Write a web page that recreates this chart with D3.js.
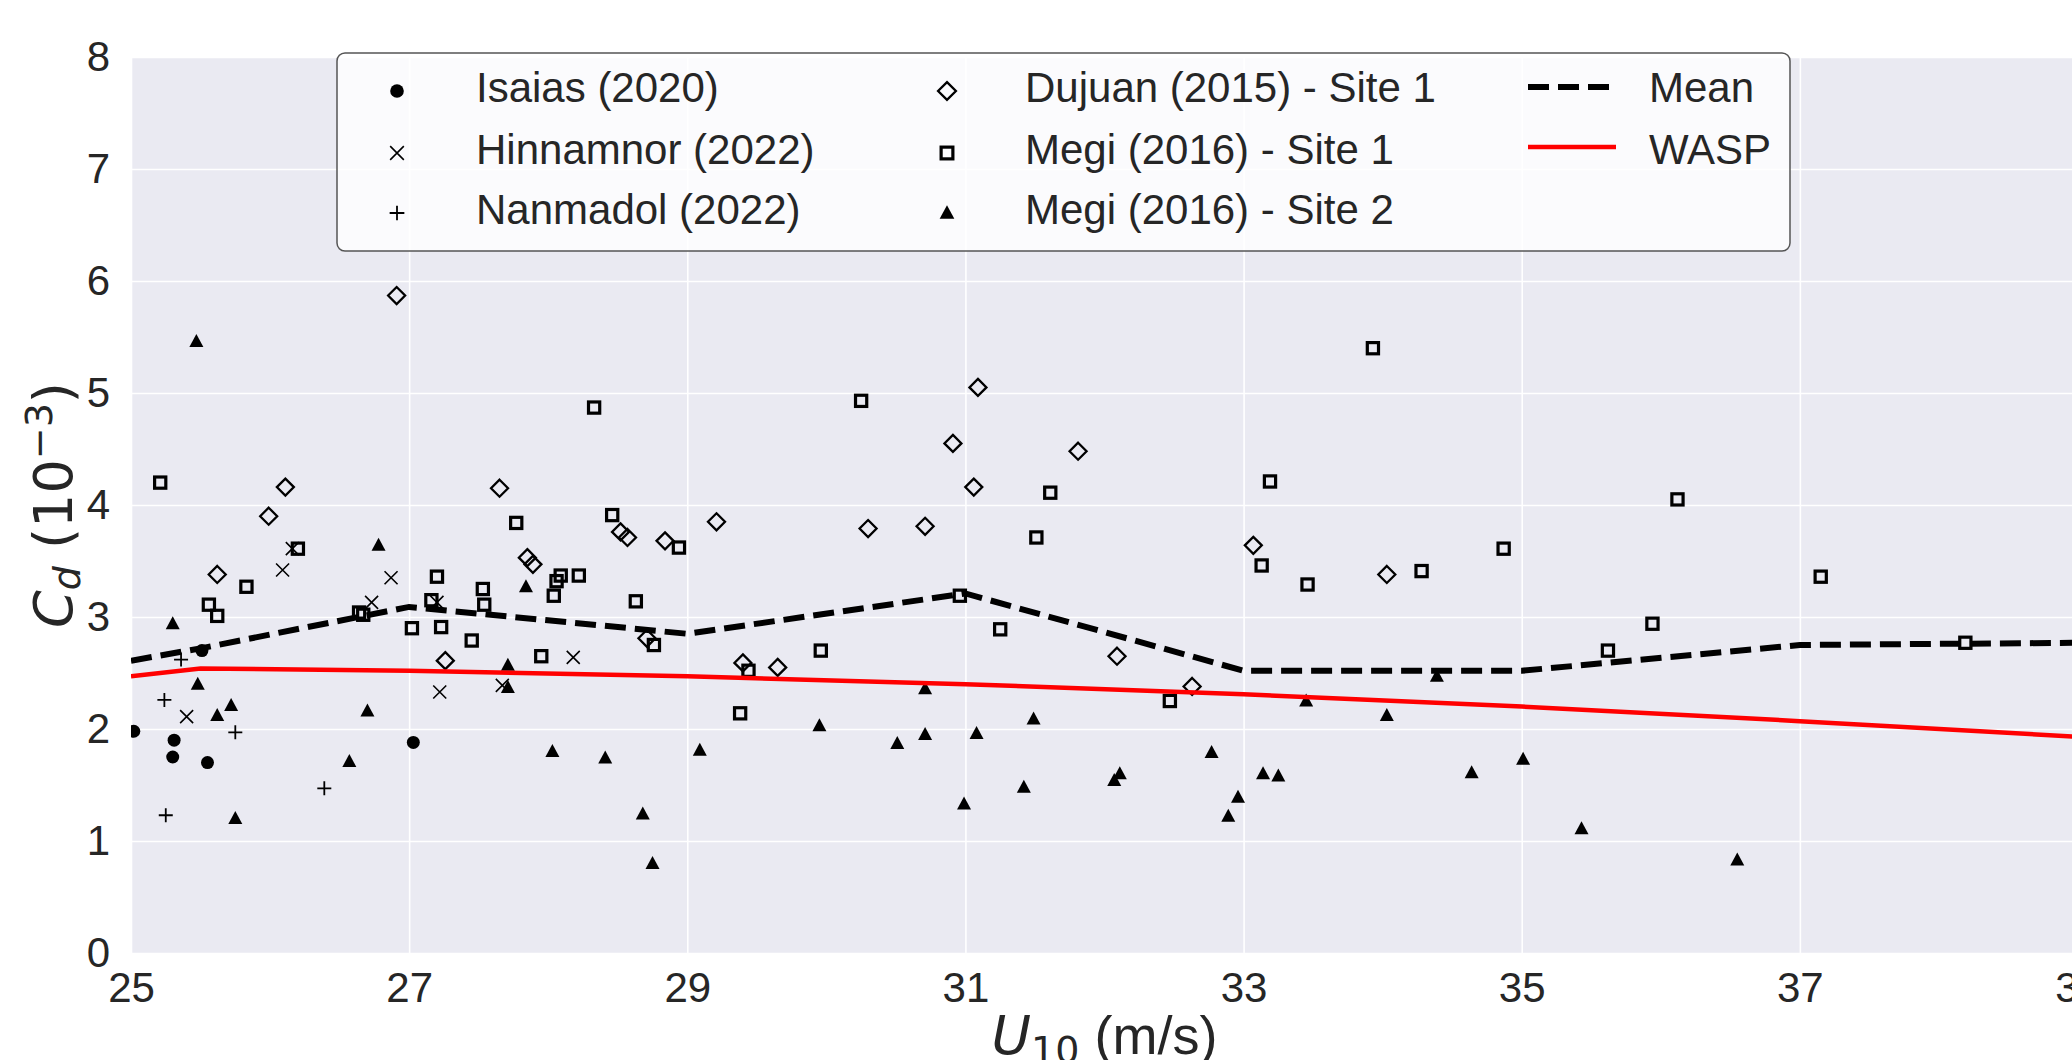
<!DOCTYPE html>
<html lang="en">
  <head>
    <meta charset="UTF-8" />
    <title>Cd vs U10</title>
    <style>
      body {
        margin: 0;
        background: #fff;
      }
      svg {
        display: block;
      }
    </style>
  </head>
  <body>
    <div id="chart"></div>
    <script src="https://cdnjs.cloudflare.com/ajax/libs/d3/7.8.5/d3.min.js"></script>
    <script>
      // data: [U10, Cd]
      var isaias = [[25.02, 1.98], [25.31, 1.9], [25.3, 1.75], [25.55, 1.7], [25.51, 2.7], [27.03, 1.88]];
      var hinnamnor = [[25.4, 2.11], [26.09, 3.42], [26.16, 3.61], [26.73, 3.13], [26.87, 3.35], [27.2, 3.13], [27.22, 2.33], [27.67, 2.39], [28.18, 2.64]];
      var nanmadol = [[25.24, 2.26], [25.36, 2.62], [25.25, 1.23], [25.75, 1.97], [26.39, 1.47]];
      var dujuan = [[25.62, 3.38], [25.99, 3.9], [26.11, 4.16], [26.91, 5.87], [27.26, 2.61], [27.65, 4.15], [27.85, 3.53], [27.89, 3.47], [28.52, 3.76], [28.57, 3.71], [28.71, 2.81], [28.84, 3.68], [29.21, 3.85], [29.4, 2.59], [29.65, 2.55], [30.3, 3.79], [30.71, 3.81], [30.91, 4.55], [31.06, 4.16], [31.09, 5.05], [31.81, 4.48], [32.09, 2.65], [32.63, 2.38], [33.07, 3.64], [34.03, 3.38]];
      var megi1 = [[25.21, 4.2], [25.56, 3.11], [25.62, 3.01], [25.83, 3.27], [26.2, 3.61], [26.64, 3.04], [26.67, 3.02], [27.02, 2.9], [27.16, 3.15], [27.2, 3.36], [27.23, 2.91], [27.45, 2.79], [27.53, 3.25], [27.54, 3.11], [27.77, 3.84], [27.95, 2.65], [28.04, 3.19], [28.06, 3.32], [28.09, 3.37], [28.22, 3.37], [28.33, 4.87], [28.46, 3.91], [28.63, 3.14], [28.76, 2.75], [28.94, 3.62], [29.38, 2.14], [29.44, 2.52], [29.96, 2.7], [30.25, 4.93], [30.96, 3.19], [31.25, 2.89], [31.51, 3.71], [31.61, 4.11], [32.47, 2.25], [33.13, 3.46], [33.19, 4.21], [33.46, 3.29], [33.93, 5.4], [34.28, 3.41], [34.87, 3.61], [35.62, 2.7], [35.94, 2.94], [36.12, 4.05], [37.15, 3.36], [38.19, 2.77]];
      var megi2 = [[25.3, 2.94], [25.47, 5.46], [25.48, 2.4], [25.62, 2.12], [25.72, 2.21], [25.75, 1.2], [26.57, 1.71], [26.7, 2.16], [26.78, 3.64], [27.71, 2.57], [27.71, 2.37], [27.84, 3.27], [28.03, 1.8], [28.41, 1.74], [28.68, 1.24], [28.75, 0.8], [29.09, 1.81], [29.95, 2.03], [30.51, 1.87], [30.71, 2.36], [30.71, 1.95], [30.99, 1.33], [31.08, 1.96], [31.42, 1.48], [31.49, 2.09], [32.07, 1.54], [32.11, 1.6], [32.77, 1.79], [32.89, 1.22], [32.96, 1.39], [33.14, 1.6], [33.25, 1.58], [33.45, 2.25], [34.03, 2.12], [34.39, 2.47], [34.64, 1.61], [35.01, 1.73], [35.43, 1.11], [36.55, 0.83]];

      var lineU = [25, 25.5, 27, 29, 31, 33, 35, 37, 39];
      var meanCd = [2.61, 2.72, 3.09, 2.85, 3.21, 2.52, 2.52, 2.75, 2.77];
      var waspCd = [2.47, 2.54, 2.52, 2.47, 2.4, 2.31, 2.2, 2.07, 1.93];

      var xTicks = [25, 27, 29, 31, 33, 35, 37, 39];
      var yTicks = [0, 1, 2, 3, 4, 5, 6, 7, 8];

      var W = 2072, H = 1060;
      // plot box (window.top is read-only, so no bare "top" here)
      var pL = 131, pR = 2078, pT = 57, pB = 953;
      var font = "'Liberation Sans', Arial, sans-serif";
      var mathFont = "'DejaVu Sans', sans-serif";

      var svg = d3.select("#chart").append("svg")
        .attr("width", W).attr("height", H);

      var x = d3.scaleLinear().domain([25, 39]).range([pL, pR]);
      var y = d3.scaleLinear().domain([0, 8]).range([pB, pT]);

      svg.append("defs").append("clipPath").attr("id", "clip")
        .append("rect").attr("x", pL).attr("y", pT)
        .attr("width", pR - pL).attr("height", pB - pT);

      // background + grid
      svg.append("rect").attr("x", pL).attr("y", pT)
        .attr("width", pR - pL).attr("height", pB - pT)
        .attr("fill", "#eaeaf2");

      svg.append("g").attr("transform", "translate(0," + pB + ")")
        .call(d3.axisBottom(x).tickValues(xTicks).tickSize(-(pB - pT)).tickFormat(""))
        .call(function (g) {
          g.select(".domain").remove();
          g.selectAll("line").attr("stroke", "#fff").attr("stroke-width", 1.6);
        });
      svg.append("g").attr("transform", "translate(" + pL + ",0)")
        .call(d3.axisLeft(y).tickValues(yTicks).tickSize(-(pR - pL)).tickFormat(""))
        .call(function (g) {
          g.select(".domain").remove();
          g.selectAll("line").attr("stroke", "#fff").attr("stroke-width", 1.6);
        });

      // tick labels
      svg.append("g").attr("transform", "translate(0," + pB + ")")
        .call(d3.axisBottom(x).tickValues(xTicks).tickSize(0).tickPadding(19).tickFormat(d3.format("d")))
        .call(function (g) {
          g.select(".domain").remove();
          g.selectAll("text").attr("font-family", font).attr("font-size", 42).attr("fill", "#262626");
        });
      svg.append("g").attr("transform", "translate(" + pL + ",0)")
        .call(d3.axisLeft(y).tickValues(yTicks).tickSize(0).tickPadding(21).tickFormat(d3.format("d")))
        .call(function (g) {
          g.select(".domain").remove();
          g.selectAll("text").attr("font-family", font).attr("font-size", 42).attr("fill", "#262626");
        });

      var xl = svg.append("text")
        .attr("x", (pL + pR) / 2).attr("y", 1054)
        .attr("text-anchor", "middle").attr("fill", "#262626")
        .attr("font-size", 54).attr("font-family", font);
      xl.append("tspan").attr("font-family", mathFont).attr("font-style", "italic").text("U");
      xl.append("tspan").attr("font-family", mathFont).attr("font-size", 38).attr("dy", 9).text("10");
      xl.append("tspan").attr("dy", -9).text(" (m/s)");

      var yl = svg.append("text")
        .attr("transform", "translate(72," + (pT + pB) / 2 + ") rotate(-90)")
        .attr("text-anchor", "middle").attr("fill", "#262626")
        .attr("font-size", 54).attr("font-family", mathFont);
      yl.append("tspan").attr("font-style", "italic").text("C");
      yl.append("tspan").attr("font-style", "italic").attr("font-size", 38).attr("dy", 8).text("d");
      yl.append("tspan").attr("dy", -8).text(" (10");
      yl.append("tspan").attr("font-size", 38).attr("dy", -20).text("\u22123");
      yl.append("tspan").attr("dy", 20).text(")");

      // marker shapes
      function marker(g, kind, s) {
        if (kind === "o") {
          g.append("circle").attr("r", 6.5 * s).attr("fill", "#000");
        } else if (kind === "x") {
          var a = 6.5 * s;
          g.append("path").attr("d", "M" + -a + "," + -a + "L" + a + "," + a + "M" + -a + "," + a + "L" + a + "," + -a)
            .attr("stroke", "#000").attr("stroke-width", 1.6).attr("fill", "none");
        } else if (kind === "+") {
          var b = 7 * s;
          g.append("path").attr("d", "M" + -b + ",0L" + b + ",0M0," + -b + "L0," + b)
            .attr("stroke", "#000").attr("stroke-width", 1.8).attr("fill", "none");
        } else if (kind === "D") {
          var c = 8.5 * s;
          g.append("path").attr("d", "M0," + -c + "L" + c + ",0L0," + c + "L" + -c + ",0Z")
            .attr("stroke", "#000").attr("stroke-width", 2.3).attr("fill", "none");
        } else if (kind === "s") {
          var e = 5.6 * s;
          g.append("rect").attr("x", -e).attr("y", -e).attr("width", 2 * e).attr("height", 2 * e)
            .attr("stroke", "#000").attr("stroke-width", 3.2).attr("fill", "none");
        } else if (kind === "^") {
          var t = s;
          g.append("path").attr("d", "M0," + -7.5 * t + "L" + 7 * t + "," + 5.5 * t + "L" + -7 * t + "," + 5.5 * t + "Z")
            .attr("fill", "#000");
        }
      }

      var series = [
        { name: "Isaias (2020)", data: isaias, kind: "o" },
        { name: "Hinnamnor (2022)", data: hinnamnor, kind: "x" },
        { name: "Nanmadol (2022)", data: nanmadol, kind: "+" },
        { name: "Dujuan (2015) - Site 1", data: dujuan, kind: "D" },
        { name: "Megi (2016) - Site 1", data: megi1, kind: "s" },
        { name: "Megi (2016) - Site 2", data: megi2, kind: "^" }
      ];

      var plot = svg.append("g").attr("clip-path", "url(#clip)");

      series.forEach(function (s) {
        plot.append("g").selectAll("g").data(s.data).enter().append("g")
          .attr("transform", function (d) { return "translate(" + x(d[0]) + "," + y(d[1]) + ")"; })
          .each(function () { marker(d3.select(this), s.kind, 1); });
      });

      var line = d3.line()
        .x(function (d) { return x(d[0]); })
        .y(function (d) { return y(d[1]); });

      plot.append("path")
        .datum(lineU.map(function (u, i) { return [u, waspCd[i]]; }))
        .attr("d", line).attr("fill", "none").attr("stroke", "#ff0000").attr("stroke-width", 4.5);
      plot.append("path")
        .datum(lineU.map(function (u, i) { return [u, meanCd[i]]; }))
        .attr("d", line).attr("fill", "none").attr("stroke", "#000").attr("stroke-width", 6)
        .attr("stroke-dasharray", "21,9");

      // legend
      var lg = svg.append("g");
      lg.append("rect").attr("x", 337).attr("y", 53).attr("width", 1453).attr("height", 198)
        .attr("rx", 8).attr("fill", "#ffffff").attr("fill-opacity", 0.8)
        .attr("stroke", "#555").attr("stroke-width", 1.5);

      var rowY = [89, 151, 211];
      var cols = [{ mx: 397, tx: 476 }, { mx: 947, tx: 1025 }];
      series.forEach(function (s, i) {
        var c = cols[Math.floor(i / 3)], ry = rowY[i % 3];
        marker(lg.append("g").attr("transform", "translate(" + c.mx + "," + (ry + 2) + ")"), s.kind, 1.05);
        lg.append("text").attr("x", c.tx).attr("y", ry + 13)
          .attr("font-family", font).attr("font-size", 42).attr("fill", "#262626").text(s.name);
      });
      lg.append("line").attr("x1", 1528).attr("x2", 1616).attr("y1", rowY[0] - 2).attr("y2", rowY[0] - 2)
        .attr("stroke", "#000").attr("stroke-width", 6).attr("stroke-dasharray", "21,9");
      lg.append("text").attr("x", 1649).attr("y", rowY[0] + 13)
        .attr("font-family", font).attr("font-size", 42).attr("fill", "#262626").text("Mean");
      lg.append("line").attr("x1", 1528).attr("x2", 1616).attr("y1", rowY[1] - 4).attr("y2", rowY[1] - 4)
        .attr("stroke", "#ff0000").attr("stroke-width", 4.5);
      lg.append("text").attr("x", 1649).attr("y", rowY[1] + 13)
        .attr("font-family", font).attr("font-size", 42).attr("fill", "#262626").text("WASP");
    </script>
  </body>
</html>
